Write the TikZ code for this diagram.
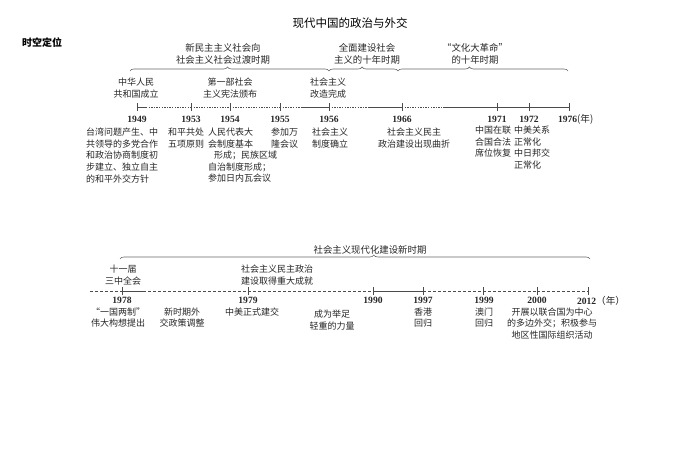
\documentclass[tikz,border=0pt]{standalone}
\usepackage{fontspec}
\setmainfont{Liberation Serif}
\newfontfamily\cjk{Noto Sans CJK SC}
\usetikzlibrary{decorations.pathreplacing}
\begin{document}
\begin{tikzpicture}[x=1pt,y=-1pt,
  every node/.style={inner sep=0pt,outer sep=0pt},
  txt/.style={font=\cjk\fontsize{9}{11.6}\selectfont,text=black!85},
  ttl/.style={font=\cjk\fontsize{9.4}{11.5}\selectfont,text=black!85,align=center},
  yr/.style={font=\bfseries\fontsize{9.6}{12}\selectfont,text=black!85},
  axis/.style={line width=0.6pt,draw=black!70},
  dot/.style={axis,dash pattern=on 1.3pt off 1.3pt},
  dsh/.style={axis,dash pattern=on 3pt off 2pt},
  tk/.style={line width=0.6pt,draw=black!70},
  brc/.style={draw=black!60,line width=0.6pt,decorate,decoration={brace,amplitude=4pt}}
]
\useasboundingbox (0,0) rectangle (700,470);
% title
\node[font=\cjk\fontsize{11.5}{13}\selectfont] (title) at (350,23) {现代中国的政治与外交};
\node[font=\cjk\bfseries\fontsize{10}{12}\selectfont,anchor=west] (loc) at (22,43) {时空定位};

% ---------- top timeline ----------
\coordinate (t49) at (137,107);
\coordinate (t53) at (191,107);
\coordinate (t54) at (230,107);
\coordinate (t55) at (280,107);
\coordinate (t56) at (329,107);
\coordinate (t66) at (402,107);
\coordinate (t71) at (497,107);
\coordinate (t72) at (529,107);
\coordinate (t76) at (569,107);
\coordinate (ta) at (146,107);
\coordinate (tb) at (302,107);
\coordinate (tc) at (368,107);
\coordinate (td) at (443,107);

\draw[axis] (t49) -- (ta);
\draw[dot] (ta) -- (t53);
\draw[dot] (t53) -- (t54);
\draw[dot] (t54) -- (t55);
\draw[dot] (t55) -- (tb);
\draw[axis] (tb) -- (t56);
\draw[dot] (t56) -- (tc);
\draw[axis] (tc) -- (t66);
\draw[dot] (t66) -- (td);
\draw[axis] (td) -- (t71);
\draw[axis] (t71) -- (t72);
\draw[axis] (t72) -- (t76);
\foreach \c in {t49,t53,t54,t55,t56,t66,t71,t72,t76}
  \draw[tk] ([yshift=-4pt]\c) -- ([yshift=4pt]\c);

% years
\node[yr] (y49) at (137,119) {1949};
\node[yr] (y53) at (191,119) {1953};
\node[yr] (y54) at (230,119) {1954};
\node[yr] (y55) at (280,119) {1955};
\node[yr] (y56) at (329,119) {1956};
\node[yr] (y66) at (402,119) {1966};
\node[yr] (y71) at (497,119) {1971};
\node[yr] (y72) at (529,119) {1972};
\node[yr,anchor=west] (y76) at (558,119) {1976{\cjk\mdseries (年)}};

% braces
\coordinate (b1a) at (130,71); \coordinate (b1b) at (329,71);
\coordinate (b2a) at (329,71); \coordinate (b2b) at (398,71);
\coordinate (b3a) at (398,71); \coordinate (b3b) at (568,71);
\draw[brc,decoration={aspect=0.49}] (b1a) -- (b1b);
\draw[brc,decoration={aspect=0.48}] (b2a) -- (b2b);
\draw[brc,decoration={aspect=0.42}] (b3a) -- (b3b);

\node[ttl] (p1) at (223,54) {新民主主义社会向\\社会主义社会过渡时期};
\node[ttl] (p2) at (367,54) {全面建设社会\\主义的十年时期};
\node[ttl] (p3) at (475,54) {“文化大革命”\\的十年时期};

% labels above
\node[txt,align=center] (a49) at (136,88) {中华人民\\共和国成立};
\node[txt,align=center] (a54) at (230,88) {第一部社会\\主义宪法颁布};
\node[txt,align=center] (a56) at (328,88) {社会主义\\改造完成};

% labels below
\node[txt,align=left,anchor=north west] (d49) at (86,128) {台湾问题产生、中\\共领导的多党合作\\和政治协商制度初\\步建立、独立自主\\的和平外交方针};
\node[txt,align=left,anchor=north west] (d53) at (168,128) {和平共处\\五项原则};
\node[txt,align=left,anchor=north west] (d54) at (208,128) {人民代表大\\会制度基本\\\hspace{6pt}形成；民族区域\\自治制度形成；\\参加日内瓦会议};
\node[txt,align=left,anchor=north west] (d55) at (271,128) {参加万\\隆会议};
\node[txt,align=left,anchor=north west] (d56) at (312,128) {社会主义\\制度确立};
\node[txt,align=center,anchor=north] (d66) at (414,128) {社会主义民主\\政治建设出现曲折};
\node[txt,align=left,anchor=north west] (d71) at (475,126) {中国在联\\合国合法\\席位恢复};
\node[txt,align=left,anchor=north west] (d72) at (514,126) {中美关系\\正常化\\中日邦交\\正常化};

% ---------- bottom timeline ----------
\coordinate (s0) at (90,291);
\coordinate (s78) at (122,291);
\coordinate (sa) at (143,291);
\coordinate (s79) at (248,291);
\coordinate (s90) at (373,291);
\coordinate (s97) at (423,291);
\coordinate (s99) at (483,291);
\coordinate (s00) at (537,291);
\coordinate (s12) at (588,291);

\draw[dsh] (s0) -- (s78);
\draw[axis] (s78) -- (sa);
\draw[dsh] (sa) -- (s79);
\draw[dsh] (s79) -- (s90);
\draw[axis] (s90) -- (s97);
\draw[dsh] (s97) -- (s99);
\draw[dsh] (s99) -- (s00);
\draw[dsh] (s00) -- (s12);
\foreach \c in {s78,s79,s90,s97,s99,s00,s12}
  \draw[tk] ([yshift=-4pt]\c) -- ([yshift=4pt]\c);

\node[yr] (z78) at (122,300.5) {1978};
\node[yr] (z79) at (248,300.5) {1979};
\node[yr] (z90) at (373,300.5) {1990};
\node[yr] (z97) at (423,300.5) {1997};
\node[yr] (z99) at (484,300.5) {1999};
\node[yr] (z00) at (537,300.5) {2000};
\node[yr,anchor=west] (z12) at (577,300.5) {2012{\cjk\mdseries（年）}};

\coordinate (bb1) at (120,259); \coordinate (bb2) at (590,259);
\draw[brc,decoration={aspect=0.54}] (bb1) -- (bb2);
\node[ttl] (p4) at (370,250) {社会主义现代化建设新时期};

\node[txt,align=center] (c78) at (123,275) {十一届\\三中全会};
\node[txt,align=center] (c79) at (277,275) {社会主义民主政治\\建设取得重大成就};

\node[txt,align=center,anchor=north] (e1) at (118,307.5) {“一国两制”\\伟大构想提出};
\node[txt,align=center,anchor=north] (e2) at (182,307.5) {新时期外\\交政策调整};
\node[txt,align=center,anchor=north] (e3) at (252,307.5) {中美正式建交};
\node[txt,align=center,anchor=north] (e4) at (332,310) {成为举足\\轻重的力量};
\node[txt,align=center,anchor=north] (e5) at (423,307.5) {香港\\回归};
\node[txt,align=center,anchor=north] (e6) at (484,307.5) {澳门\\回归};
\node[txt,align=center,anchor=north] (e7) at (552,307.5) {开展以联合国为中心\\的多边外交；积极参与\\地区性国际组织活动};
\end{tikzpicture}
\end{document}
